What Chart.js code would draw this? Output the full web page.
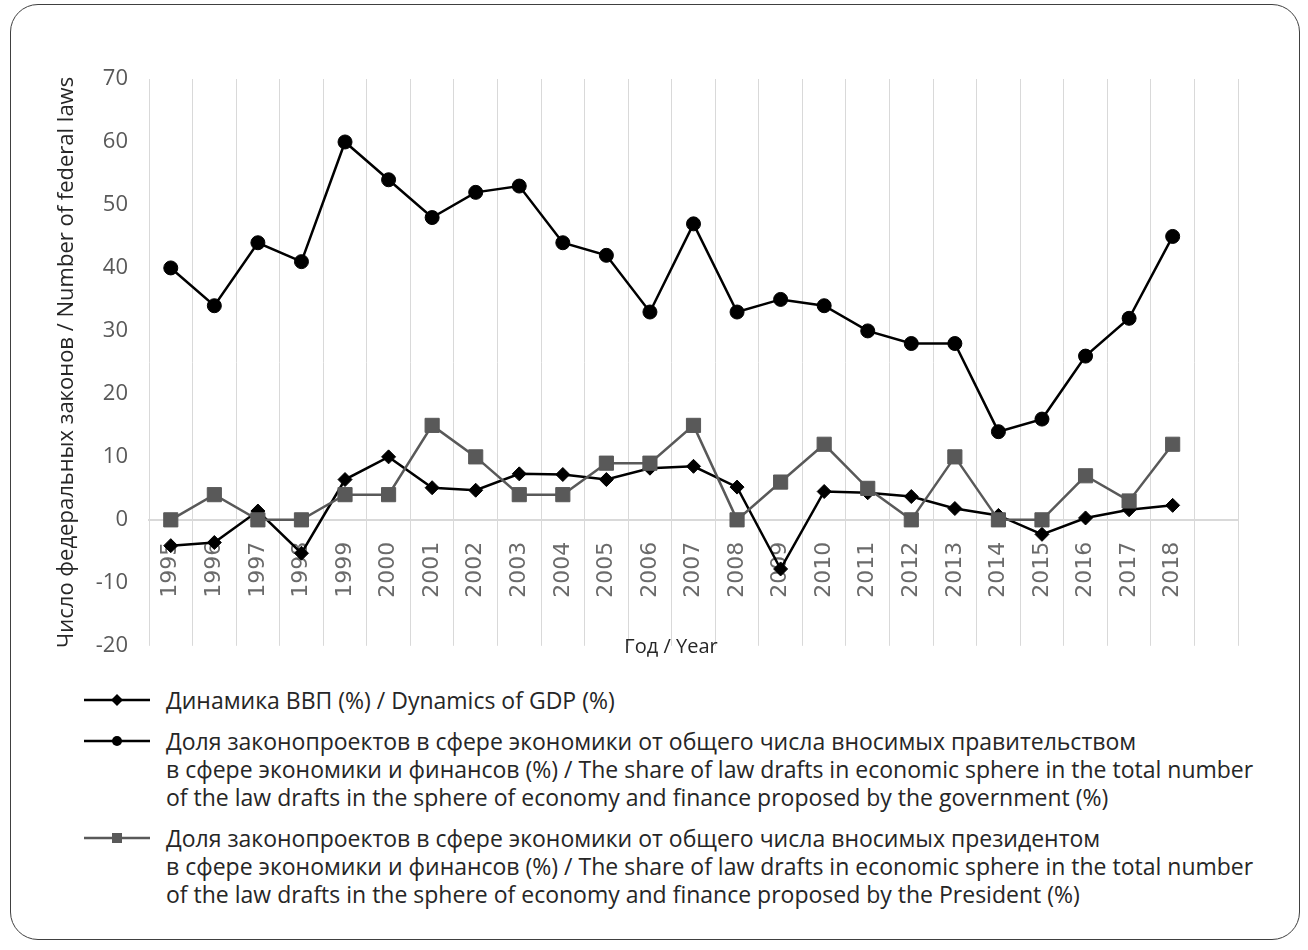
<!DOCTYPE html>
<html>
<head>
<meta charset="utf-8">
<script src="https://cdn.jsdelivr.net/npm/chart.js@4.4.1/dist/chart.umd.min.js"></script>
<style>
    body { margin: 0; width: 1308px; height: 950px; background: #fff; position: relative; overflow: hidden; }
    .frame { position: absolute; left: 10px; top: 4px; width: 1288px; height: 934px; border: 1.5px solid #404040; border-radius: 28px; }
    #chartBox { position: absolute; left: 0; top: 0; width: 1308px; height: 680px; }
    #legend { position: absolute; left: 84px; top: 686px; font-family: "Open Sans", sans-serif; font-size: 23px; color: #262626; }
    .legend-item { display: flex; align-items: flex-start; margin-bottom: 13px; }
    .legend-item svg { flex: none; margin-right: 16px; }
    .legend-text { line-height: 28px; white-space: pre-line; }
</style>
</head>
<body>
<div class="frame"></div>
<div id="chartBox"><canvas id="lawChart" width="1308" height="680"></canvas></div>
<div id="legend"></div>

<script>
// Years along the x axis (one empty slot at the end, like the original)
const years = ['1995', '1996', '1997', '1998', '1999', '2000', '2001', '2002', '2003', '2004', '2005', '2006',
               '2007', '2008', '2009', '2010', '2011', '2012', '2013', '2014', '2015', '2016', '2017', '2018', ''];

// Series values
const gdpDynamics = [-4.1, -3.6, 1.4, -5.3, 6.4, 10.0, 5.1, 4.7, 7.3, 7.2, 6.4, 8.2,
                     8.5, 5.2, -7.8, 4.5, 4.3, 3.7, 1.8, 0.7, -2.3, 0.3, 1.6, 2.3];
const governmentShare = [40, 34, 44, 41, 60, 54, 48, 52, 53, 44, 42, 33,
                         47, 33, 35, 34, 30, 28, 28, 14, 16, 26, 32, 45];
const presidentShare = [0, 4, 0, 0, 4, 4, 15, 10, 4, 4, 9, 9,
                        15, 0, 6, 12, 5, 0, 10, 0, 0, 7, 3, 12];

// Labels
const seriesLabels = [
    'Динамика ВВП (%) / Dynamics of GDP (%)',
    'Доля законопроектов в сфере экономики от общего числа вносимых правительством\n' +
    'в сфере экономики и финансов (%) / The share of law drafts in economic sphere in the total number\n' +
    'of the law drafts in the sphere of economy and finance proposed by the government (%)',
    'Доля законопроектов в сфере экономики от общего числа вносимых президентом\n' +
    'в сфере экономики и финансов (%) / The share of law drafts in economic sphere in the total number\n' +
    'of the law drafts in the sphere of economy and finance proposed by the President (%)'
];
const yTitle = 'Число федеральных законов / Number of federal laws';
const xTitle = 'Год / Year';
const yTicks = { min: -20, max: 70, step: 10 };

const darkGray = '#595959';

// x axis title sits under the plot, drawn by hand
const xTitlePlugin = {
    id: 'xTitle',
    afterDraw(chart) {
        const ctx = chart.ctx;
        ctx.save();
        ctx.font = '20px "Open Sans", sans-serif';
        ctx.fillStyle = '#262626';
        ctx.textAlign = 'center';
        ctx.textBaseline = 'middle';
        ctx.fillText(xTitle, 671, 647);
        ctx.restore();
    }
};

const ctx = document.getElementById('lawChart').getContext('2d');
const chart = new Chart(ctx, {
    type: 'line',
    data: {
        labels: years,
        datasets: [
            {
                label: seriesLabels[0],
                data: gdpDynamics,
                borderColor: '#000',
                backgroundColor: '#000',
                borderWidth: 2.5,
                pointStyle: 'rectRot',
                pointRadius: 7,
                pointBorderWidth: 1,
                order: 2
            },
            {
                label: seriesLabels[1],
                data: governmentShare,
                borderColor: '#000',
                backgroundColor: '#000',
                borderWidth: 2.5,
                pointStyle: 'circle',
                pointRadius: 7,
                pointBorderWidth: 1,
                order: 1
            },
            {
                label: seriesLabels[2],
                data: presidentShare,
                borderColor: darkGray,
                backgroundColor: darkGray,
                borderWidth: 2.5,
                pointStyle: 'rect',
                pointRadius: 10,
                pointBorderWidth: 1,
                order: 0
            }
        ]
    },
    options: {
        responsive: false,
        animation: false,
        layout: { padding: { left: 50, top: 79, right: 70, bottom: 31 } },
        elements: { line: { tension: 0 } },
        plugins: {
            legend: { display: false },
            tooltip: { enabled: false }
        },
        scales: {
            x: {
                position: { y: 0 },
                offset: true,
                grid: { color: '#d9d9d9', lineWidth: 1, offset: true, drawTicks: false },
                border: { color: '#d9d9d9', width: 2 },
                ticks: {
                    autoSkip: false,
                    minRotation: 90,
                    maxRotation: 90,
                    padding: 22,
                    color: '#6a6a6a',
                    font: { family: '"DejaVu Sans", sans-serif', size: 22 }
                }
            },
            y: {
                min: yTicks.min,
                max: yTicks.max,
                afterFit(scale) { scale.width = 99; },
                grid: { display: false, drawTicks: false },
                border: { display: false },
                ticks: {
                    stepSize: yTicks.step,
                    padding: 21,
                    color: darkGray,
                    font: { family: '"Open Sans", sans-serif', size: 22 }
                },
                title: {
                    display: true,
                    text: yTitle,
                    color: '#262626',
                    font: { family: '"Open Sans", sans-serif', size: 22 }
                }
            }
        }
    },
    plugins: [xTitlePlugin]
});

// HTML legend with line + marker icons
function markerSvg(ds) {
    const c = ds.borderColor;
    let mark = '';
    if (ds.pointStyle === 'rectRot') {
        mark = `<polygon points="33,8 39,14 33,20 27,14" fill="${c}"/>`;
    } else if (ds.pointStyle === 'circle') {
        mark = `<circle cx="33" cy="14" r="5" fill="${c}"/>`;
    } else {
        mark = `<rect x="28" y="9" width="10" height="10" fill="${c}"/>`;
    }
    return `<svg width="66" height="28" viewBox="0 0 66 28">
        <line x1="0" y1="14" x2="66" y2="14" stroke="${c}" stroke-width="2.5"/>${mark}</svg>`;
}

function buildLegend() {
    const legend = document.getElementById('legend');
    legend.innerHTML = '';
    chart.data.datasets.forEach(ds => {
        const item = document.createElement('div');
        item.className = 'legend-item';
        item.innerHTML = markerSvg(ds) + `<div class="legend-text">${ds.label}</div>`;
        legend.appendChild(item);
    });
}
buildLegend();
</script>
</body>
</html>
